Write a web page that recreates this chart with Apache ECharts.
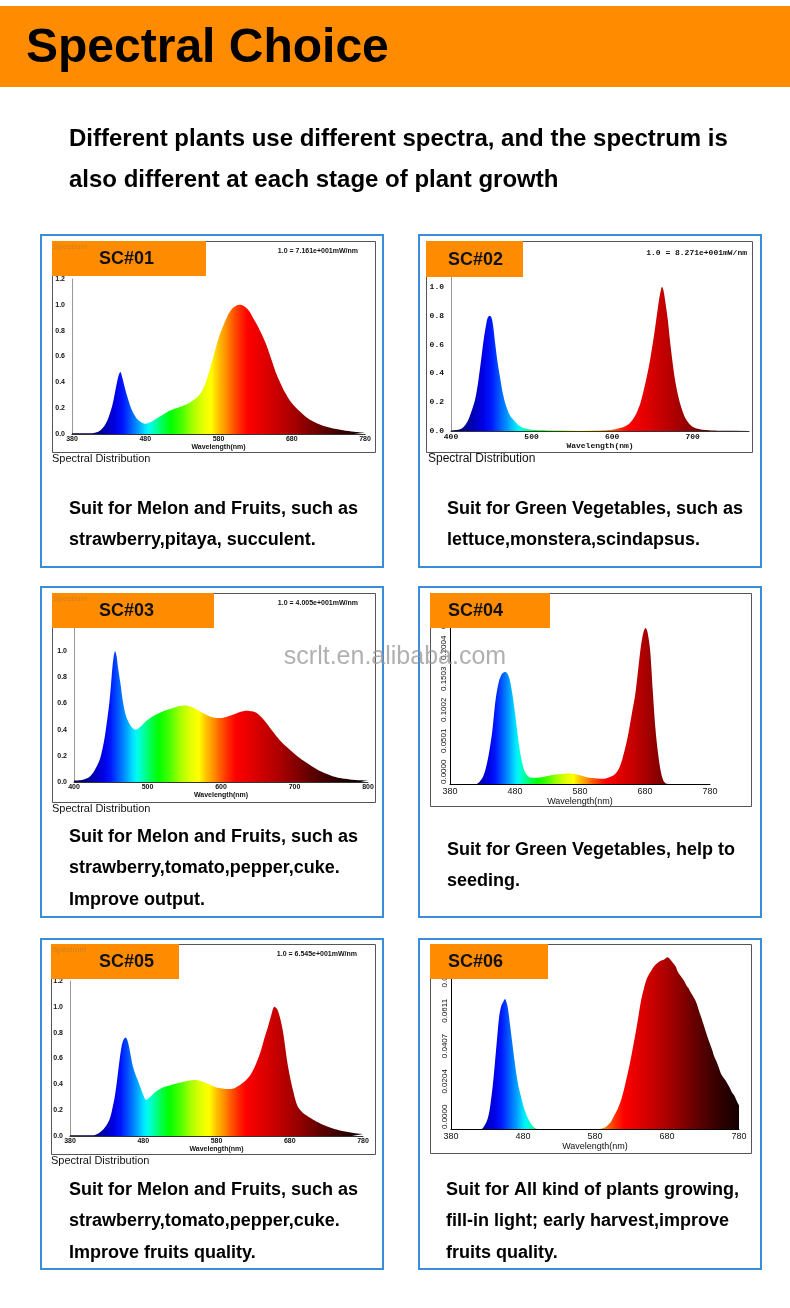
<!DOCTYPE html>
<html lang="en">
<head>
<meta charset="utf-8">
<title>Spectral Choice</title>
<script src="https://cdn.jsdelivr.net/npm/echarts@6/dist/echarts.min.js"></script>
<style>
html, body { margin: 0; padding: 0; background: #fff; }
#main { width: 790px; height: 1308px; }
</style>
</head>
<body>
<div id="main"></div>
<script>
// spectra: [wavelength nm, relative value]
var sc01 = [[380,0.005],[400,0.005],[410,0.008],[415,0.015],[420,0.035],[425,0.07],[430,0.13],[435,0.22],[440,0.36],[443,0.44],[446,0.48],[449,0.43],[452,0.36],[456,0.28],[460,0.21],[465,0.15],[470,0.11],[475,0.09],[480,0.08],[485,0.085],[490,0.1],[500,0.135],[510,0.17],[520,0.195],[530,0.215],[540,0.24],[550,0.28],[556,0.32],[562,0.39],[568,0.5],[574,0.62],[580,0.74],[586,0.83],[592,0.91],[598,0.965],[604,0.993],[610,1.0],[616,0.985],[622,0.95],[628,0.89],[634,0.83],[640,0.76],[646,0.68],[652,0.58],[658,0.48],[664,0.4],[670,0.33],[680,0.24],[690,0.18],[700,0.13],[710,0.095],[720,0.07],[735,0.045],[750,0.03],[765,0.018],[780,0.01]];
var sc02 = [[400,0.003],[410,0.01],[415,0.025],[420,0.06],[425,0.13],[430,0.22],[434,0.35],[438,0.52],[441,0.65],[444,0.75],[446,0.79],[448,0.8],[450,0.79],[452,0.74],[455,0.6],[458,0.47],[461,0.37],[464,0.27],[467,0.2],[470,0.15],[474,0.1],[478,0.075],[483,0.045],[490,0.02],[500,0.008],[520,0.004],[540,0.003],[560,0.002],[580,0.003],[590,0.005],[600,0.009],[608,0.018],[615,0.03],[620,0.045],[625,0.075],[630,0.12],[635,0.19],[640,0.3],[644,0.4],[648,0.52],[652,0.66],[655,0.78],[658,0.9],[660,0.96],[662,1.0],[664,0.97],[666,0.9],[669,0.78],[672,0.62],[675,0.48],[678,0.36],[681,0.27],[685,0.18],[690,0.1],[695,0.055],[700,0.03],[710,0.01],[720,0.005],[735,0.002],[750,0.002],[770,0.001]];
var sc03 = [[400,0.01],[410,0.015],[420,0.035],[426,0.07],[431,0.12],[435,0.17],[439,0.26],[442,0.35],[445,0.47],[448,0.6],[450,0.72],[452,0.86],[454,0.96],[456,1.0],[458,0.96],[460,0.87],[463,0.76],[467,0.6],[471,0.5],[475,0.45],[480,0.41],[484,0.4],[490,0.42],[499,0.47],[508,0.505],[517,0.53],[526,0.55],[535,0.565],[543,0.58],[551,0.585],[559,0.575],[567,0.555],[576,0.525],[585,0.5],[593,0.49],[601,0.49],[609,0.5],[617,0.515],[626,0.535],[635,0.545],[642,0.54],[649,0.525],[656,0.49],[662,0.45],[670,0.39],[680,0.32],[690,0.265],[699,0.22],[708,0.18],[717,0.145],[728,0.105],[740,0.07],[750,0.048],[762,0.03],[775,0.02],[790,0.014],[800,0.012]];
var sc04 = [[380,0],[420,0],[424,0.002],[430,0.01],[435,0.025],[440,0.05],[445,0.085],[450,0.135],[455,0.165],[460,0.178],[464,0.181],[468,0.179],[472,0.168],[476,0.145],[480,0.115],[484,0.08],[488,0.05],[492,0.03],[496,0.018],[502,0.011],[510,0.01],[520,0.011],[530,0.013],[540,0.015],[550,0.016],[560,0.017],[570,0.0165],[580,0.014],[590,0.011],[600,0.0095],[610,0.0085],[620,0.009],[628,0.012],[634,0.016],[640,0.025],[645,0.04],[650,0.06],[655,0.085],[660,0.115],[665,0.145],[670,0.19],[674,0.225],[678,0.247],[681,0.252],[684,0.245],[688,0.215],[692,0.15],[696,0.09],[700,0.05],[704,0.022],[708,0.006],[712,0.001],[720,0],[780,0]];
var sc05 = [[380,0.005],[400,0.005],[410,0.006],[415,0.01],[421,0.03],[426,0.055],[430,0.085],[434,0.13],[437,0.19],[441,0.3],[444,0.42],[447,0.56],[450,0.68],[453,0.745],[456,0.763],[459,0.73],[462,0.65],[465,0.56],[468,0.5],[472,0.44],[476,0.38],[480,0.32],[484,0.28],[489,0.3],[494,0.33],[500,0.355],[508,0.38],[515,0.39],[521,0.4],[528,0.41],[535,0.42],[542,0.428],[550,0.433],[558,0.425],[567,0.407],[574,0.39],[580,0.376],[588,0.368],[598,0.363],[605,0.372],[612,0.394],[619,0.425],[626,0.47],[633,0.545],[640,0.65],[645,0.75],[651,0.86],[655,0.94],[659,1.0],[663,0.98],[667,0.91],[671,0.8],[674,0.68],[677,0.56],[681,0.44],[685,0.34],[690,0.24],[696,0.19],[704,0.155],[714,0.12],[726,0.085],[738,0.06],[750,0.041],[765,0.026],[780,0.015]];
var sc06 = [[380,0],[420,0],[424,0.0005],[428,0.003],[431,0.006],[434,0.012],[438,0.025],[441,0.038],[444,0.052],[447,0.065],[450,0.071],[453,0.0735],[455,0.0747],[457,0.073],[459,0.0695],[462,0.06],[465,0.05],[468,0.04],[471,0.031],[474,0.024],[477,0.019],[480,0.014],[484,0.009],[487,0.006],[491,0.003],[495,0.001],[500,0],[586,0],[590,0.0005],[595,0.0012],[598,0.0023],[602,0.004],[607,0.008],[612,0.012],[617,0.0177],[621,0.024],[626,0.033],[630,0.041],[635,0.052],[640,0.064],[644,0.074],[648,0.081],[652,0.0865],[655,0.089],[658,0.091],[661,0.093],[664,0.0945],[667,0.0955],[670,0.0965],[673,0.097],[676,0.0975],[679,0.0985],[681,0.0988],[683,0.0982],[686,0.0968],[689,0.0952],[692,0.0935],[695,0.0905],[698,0.0885],[701,0.0868],[704,0.085],[707,0.0826],[710,0.081],[713,0.0785],[716,0.0765],[719,0.0743],[722,0.0712],[725,0.0672],[728,0.0637],[731,0.0598],[734,0.0558],[737,0.052],[740,0.0486],[743,0.0452],[746,0.0412],[749,0.0385],[752,0.0352],[755,0.0318],[758,0.0298],[761,0.0282],[764,0.026],[767,0.0238],[770,0.0212],[773,0.0195],[776,0.017],[779,0.0142],[780,0.0138],[780,0]];

var spectra = [sc01, sc02, sc03, sc04, sc05, sc06];
var labels = ['SC#01', 'SC#02', 'SC#03', 'SC#04', 'SC#05', 'SC#06'];
var scaleNotes = ['1.0 = 7.161e+001mW/nm', '1.0 = 8.271e+001mW/nm', '1.0 = 4.005e+001mW/nm', '', '1.0 = 6.545e+001mW/nm', ''];
// x axis: [min, max, step]; y axis: [min, max, step]
var xRanges = [[380, 780, 100], [400, 770, 100], [400, 800, 100], [380, 780, 100], [380, 780, 100], [380, 780, 100]];
var yRanges = [[0, 1.2, 0.2], [0, 1.2, 0.2], [0, 1.2, 0.2], [0, 0.3006, 0.0501], [0, 1.2, 0.2], [0, 0.1018, 0.02036]];
var notes = [
    ['Suit for Melon and Fruits, such as', 'strawberry,pitaya, succulent.'],
    ['Suit for Green Vegetables, such as', 'lettuce,monstera,scindapsus.'],
    ['Suit for Melon and Fruits, such as', 'strawberry,tomato,pepper,cuke.', 'Improve output.'],
    ['Suit for Green Vegetables, help to', 'seeding.'],
    ['Suit for Melon and Fruits, such as', 'strawberry,tomato,pepper,cuke.', 'Improve fruits quality.'],
    ['Suit for All kind of plants growing,', 'fill-in light; early harvest,improve', 'fruits quality.']
];

// page layout (pixels)
var panels = [
    { box: [40, 234, 344, 334], frame: [52, 241, 323, 211], tag: [52, 241, 154, 35], tagX: 99, grid: [72, 279, 293, 155], textX: 69, textY: 509, style: 'a' },
    { box: [418, 234, 344, 334], frame: [426, 241, 326, 211], tag: [426, 241, 97, 36], tagX: 448, grid: [451, 258, 298, 173], textX: 447, textY: 509, style: 'b' },
    { box: [40, 586, 344, 332], frame: [52, 593, 323, 209], tag: [52, 593, 162, 35], tagX: 99, grid: [74, 625, 294, 157], textX: 69, textY: 837, style: 'a' },
    { box: [418, 586, 344, 332], frame: [430, 593, 321, 213], tag: [430, 593, 120, 35], tagX: 448, grid: [450, 598, 260, 186], textX: 447, textY: 850, style: 'c' },
    { box: [40, 938, 344, 332], frame: [51, 944, 324, 210], tag: [51, 944, 128, 35], tagX: 99, grid: [70, 981, 293, 155], textX: 69, textY: 1190, style: 'a' },
    { box: [418, 938, 344, 332], frame: [430, 944, 321, 209], tag: [430, 944, 118, 35], tagX: 448, grid: [451, 952, 288, 177], textX: 446, textY: 1190, style: 'c' }
];

var SANS = "'Liberation Sans', Arial, sans-serif";
var NARROW = "'Liberation Sans Narrow', 'Liberation Sans', Arial, sans-serif";
var MONO = "'Liberation Mono', 'DejaVu Sans Mono', monospace";

var spectrumStops = [[380,'#140028'],[400,'#000050'],[420,'#00009a'],[440,'#0000e6'],[450,'#0018ff'],[460,'#0058ff'],[470,'#0098ff'],[480,'#00e0ff'],[486,'#00fff0'],[495,'#00ffa0'],[505,'#00ff48'],[515,'#00ff00'],[530,'#48ff00'],[545,'#a8ff00'],[560,'#e8ff00'],[570,'#ffff00'],[580,'#ffc000'],[590,'#ff9000'],[600,'#ff5800'],[610,'#ff2800'],[620,'#ff0000'],[640,'#e40000'],[660,'#c80000'],[680,'#aa0000'],[700,'#880000'],[720,'#640000'],[740,'#440000'],[760,'#280000'],[780,'#140000'],[800,'#000000']];

function hexRgb(h) { return [parseInt(h.substr(1, 2), 16), parseInt(h.substr(3, 2), 16), parseInt(h.substr(5, 2), 16)]; }
function specColor(nm) {
    for (var i = 1; i < spectrumStops.length; i++) {
        if (nm <= spectrumStops[i][0]) {
            var a = spectrumStops[i - 1], b = spectrumStops[i];
            var t = (nm - a[0]) / (b[0] - a[0]);
            var ca = hexRgb(a[1]), cb = hexRgb(b[1]);
            return 'rgb(' + ca.map(function (c, k) { return Math.round(c + (cb[k] - c) * t); }).join(',') + ')';
        }
    }
    return spectrumStops[spectrumStops.length - 1][1];
}
function ramp(lo, hi) {
    var out = [];
    for (var w = lo; w <= hi; w += 5) out.push(specColor(w));
    return out;
}

var grids = [], xAxes = [], yAxes = [], series = [], visualMaps = [], elements = [];

panels.forEach(function (p, i) {
    var st = p.style;
    var fam = st === 'a' ? NARROW : st === 'b' ? MONO : SANS;
    var fsz = st === 'a' ? 7 : st === 'b' ? 8 : 9;
    var fw = st === 'c' ? 'normal' : 'bold';
    var xr = xRanges[i], yr = yRanges[i];
    grids.push({ left: p.grid[0], top: p.grid[1], width: p.grid[2], height: p.grid[3] });
    xAxes.push({
        type: 'value', gridIndex: i, min: xr[0], max: xr[1], interval: xr[2],
        name: 'Wavelength(nm)', nameLocation: 'middle',
        nameGap: st === 'a' ? 9 : st === 'b' ? 11 : 10,
        nameTextStyle: { fontFamily: fam, fontSize: fsz, fontWeight: fw, color: '#111' },
        axisLine: { lineStyle: { color: st === 'c' ? '#000' : '#333', width: 1 } },
        axisTick: { show: false },
        splitLine: { show: false },
        axisLabel: {
            showMaxLabel: i !== 1, margin: st === 'c' ? 3 : 2,
            fontFamily: fam, fontSize: fsz, fontWeight: fw, color: '#111'
        }
    });
    var yLab = {
        fontFamily: fam, fontSize: st === 'c' ? 8 : fsz, fontWeight: fw, color: '#111',
        margin: st === 'c' ? 2 : 7,
        formatter: function (v) { return st === 'c' ? v.toFixed(4) : v.toFixed(1); }
    };
    if (st === 'c') {
        yLab.rotate = 90; yLab.align = 'left'; yLab.verticalAlign = 'bottom'; yLab.showMaxLabel = false;
    }
    yAxes.push({
        type: 'value', gridIndex: i, min: yr[0], max: yr[1], interval: yr[2],
        axisLine: { show: true, lineStyle: { color: st === 'c' ? '#000' : '#999', width: 1 } },
        axisTick: { show: false },
        splitLine: { show: false },
        axisLabel: yLab
    });
    series.push({
        type: 'line', name: labels[i], xAxisIndex: i, yAxisIndex: i,
        data: spectra[i], showSymbol: false, smooth: 0.3, silent: true,
        lineStyle: { width: 0, opacity: 0 },
        areaStyle: { opacity: 1 }
    });
    visualMaps.push({
        type: 'continuous', show: false, seriesIndex: i, dimension: 0,
        min: xr[0], max: xr[1], inRange: { color: ramp(xr[0], xr[1]) }
    });

    // panel box, chart frame, tag
    elements.push({ type: 'rect', z: 1, shape: { x: p.box[0] + 1, y: p.box[1] + 1, width: p.box[2] - 2, height: p.box[3] - 2 }, style: { fill: 'none', stroke: '#3b8ddc', lineWidth: 2 } });
    elements.push({ type: 'rect', z: 1, shape: { x: p.frame[0] + 0.5, y: p.frame[1] + 0.5, width: p.frame[2], height: p.frame[3] }, style: { fill: 'none', stroke: '#555', lineWidth: 1 } });
    elements.push({ type: 'rect', z: 100, shape: { x: p.tag[0], y: p.tag[1], width: p.tag[2], height: p.tag[3] }, style: { fill: '#ff8c00' } });
    elements.push({ type: 'text', z: 101, x: p.tagX, y: p.tag[1] + p.tag[3] / 2 + 1, style: { text: labels[i], font: 'bold 18px ' + SANS, fill: '#111', align: 'left', verticalAlign: 'middle' } });
    if (st === 'a') {
        elements.push({ type: 'text', z: 102, x: p.frame[0] + 1, y: p.frame[1] + 6, style: { text: 'Spectrum', font: '8px ' + SANS, fill: 'rgba(110,110,110,0.35)', align: 'left', verticalAlign: 'middle' } });
    }
    if (scaleNotes[i]) {
        elements.push({ type: 'text', z: 101, x: st === 'b' ? 747 : p.frame[0] + 306, y: p.frame[1] + (st === 'b' ? 12 : 10), style: { text: scaleNotes[i], font: st === 'b' ? 'bold 8px ' + MONO : 'bold 7px ' + NARROW, fill: '#111', align: 'right', verticalAlign: 'middle' } });
    }
    if (st !== 'c') {
        elements.push({ type: 'text', z: 101, x: p.frame[0] + (st === 'b' ? 2 : 0), y: p.frame[1] + p.frame[3] + 7, style: { text: 'Spectral Distribution', font: (st === 'b' ? '12px ' + SANS : '11px ' + NARROW), fill: '#111', align: 'left', verticalAlign: 'middle' } });
    }
    notes[i].forEach(function (line, k) {
        elements.push({ type: 'text', z: 101, x: p.textX, y: p.textY + k * 31.5, style: { text: line, font: 'bold 18px ' + SANS, fill: '#000', align: 'left', verticalAlign: 'middle' } });
    });
});

// header
elements.push({ type: 'rect', z: 1, shape: { x: 0, y: 6, width: 790, height: 81 }, style: { fill: '#ff8c00' } });
elements.push({ type: 'text', z: 2, x: 26, y: 49, style: { text: 'Spectral Choice', font: 'bold 48px ' + SANS, fill: '#000', align: 'left', verticalAlign: 'middle' } });
elements.push({ type: 'text', z: 2, x: 69, y: 139, style: { text: 'Different plants use different spectra, and the spectrum is', font: 'bold 24px ' + SANS, fill: '#000', align: 'left', verticalAlign: 'middle' } });
elements.push({ type: 'text', z: 2, x: 69, y: 180, style: { text: 'also different at each stage of plant growth', font: 'bold 24px ' + SANS, fill: '#000', align: 'left', verticalAlign: 'middle' } });
// watermark
elements.push({ type: 'text', z: 200, x: 395, y: 657, style: { text: 'scrlt.en.alibaba.com', font: '25px ' + SANS, fill: 'rgba(150,150,150,0.75)', align: 'center', verticalAlign: 'middle' } });

var chart = echarts.init(document.getElementById('main'));
chart.setOption({
    animation: false,
    backgroundColor: '#fff',
    grid: grids,
    xAxis: xAxes,
    yAxis: yAxes,
    visualMap: visualMaps,
    series: series,
    graphic: { elements: elements }
});
</script>
</body>
</html>
